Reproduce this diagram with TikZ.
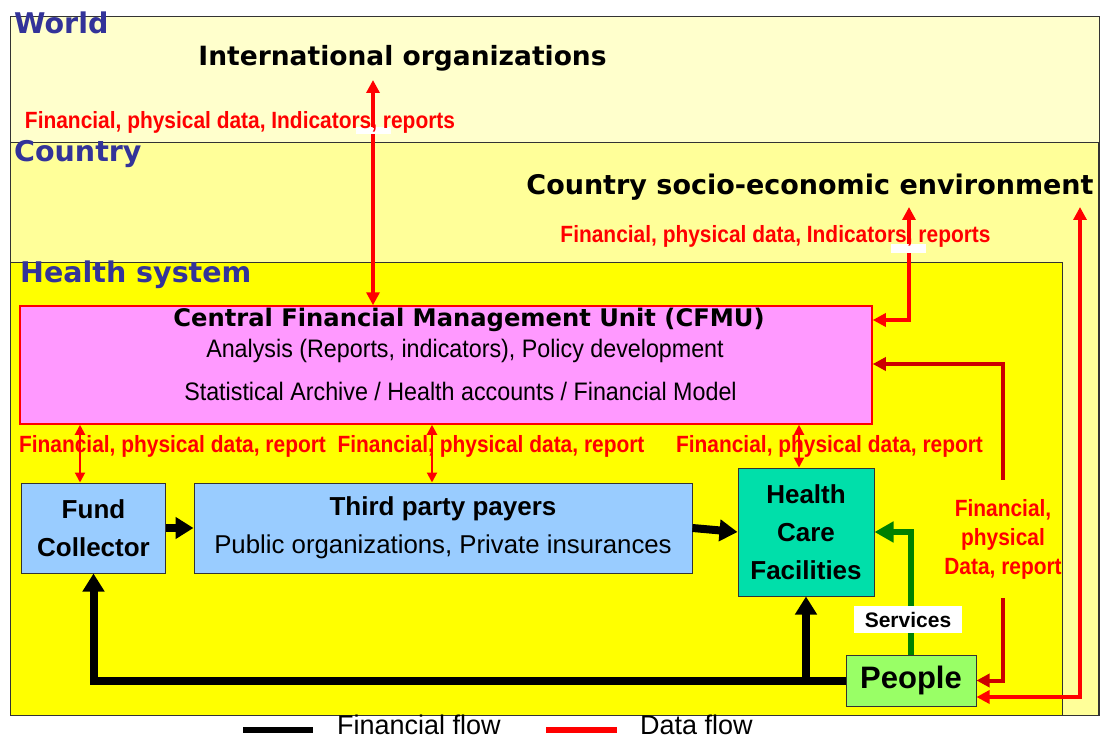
\documentclass[tikz,border=0pt]{standalone}
\usepackage{fontspec}
\setmainfont{Liberation Sans}
\newfontfamily\titlefont{DejaVu Sans}
\newfontfamily\condfont[FakeStretch=0.89]{Liberation Sans}
\newfontfamily\narrowfont[FakeStretch=0.92]{Liberation Sans}
\usetikzlibrary{arrows.meta}
\newcommand\fsz[2]{\fontsize{#1pt}{#2pt}\selectfont}

\definecolor{worldbg}{HTML}{FFFFCC}
\definecolor{countrybg}{HTML}{FFFF99}
\definecolor{healthbg}{HTML}{FFFF00}
\definecolor{cfmubg}{HTML}{FF99FF}
\definecolor{payerbg}{HTML}{99CCFF}
\definecolor{carebg}{HTML}{00DFAA}
\definecolor{peoplebg}{HTML}{99FF66}
\definecolor{levelblue}{HTML}{333399}
\definecolor{datared}{HTML}{FF0000}
\definecolor{datadark}{HTML}{CC0000}
\definecolor{svcgreen}{HTML}{008000}
\definecolor{frame}{HTML}{333333}

\tikzset{
  level/.style={anchor=base west, inner sep=0pt, text=levelblue,
    font=\titlefont\bfseries\fsz{28.5}{34}},
  headline/.style={anchor=base, inner sep=0pt, font=\titlefont\bfseries},
  datalabel/.style={anchor=base, inner sep=0pt, text=datared,
    font=\condfont\bfseries\fsz{23.5}{29}},
  unit/.style={draw=frame, line width=1pt, inner sep=0pt, align=center,
    font=\bfseries\fsz{26}{38}},
  finflow/.style={line width=8pt, -{Triangle[length=18pt,width=21pt]}},
  dataflow/.style={draw=datared, line width=4pt,
    {Triangle[length=13pt,width=13pt]}-{Triangle[length=13pt,width=13pt]}},
  datadark/.style={draw=datadark, line width=4pt},
  darktip/.style={-{Triangle[length=13pt,width=13pt]}},
  datasmall/.style={draw=datared, line width=2pt,
    {Triangle[length=10pt,width=10pt]}-{Triangle[length=10pt,width=10pt]}},
  svcflow/.style={draw=svcgreen, line width=6pt,
    -{Triangle[length=19pt,width=20pt]}},
  legendtext/.style={anchor=base west, inner sep=0pt, font=\fsz{27}{32}},
}

\begin{document}
\begin{tikzpicture}[x=1pt,y=-1pt]
\useasboundingbox[fill=white] (0,0) rectangle (1103,738);

% nested levels: world, country, health system
\draw[fill=worldbg, draw=frame, line width=1pt] (10,17) rectangle (1099,715);
\draw[fill=countrybg, draw=frame, line width=1pt] (10,143) rectangle (1098,715);
\draw[fill=healthbg, draw=frame, line width=1pt] (10,262) rectangle (1062,715);

\node[level] (world) at (14,34) {World};
\node[level] (country) at (14,162) {Country};
\node[level] (health) at (20,282) {Health system};

\node[headline, font=\titlefont\bfseries\fsz{26.5}{32}] (intl) at (402.5,66)
  {International organizations};
\node[headline, font=\titlefont\bfseries\fsz{27}{32}] (env) at (810,195)
  {Country socio-economic environment};

% central unit
\node[draw=datared, fill=cfmubg, line width=1.5pt, inner sep=0pt,
  minimum width=852pt, minimum height=118pt] (cfmu) at (446,365) {};
\node[headline, font=\titlefont\bfseries\fsz{24.2}{29}] (cfmutitle) at (469,326)
  {Central Financial Management Unit (CFMU)};
\node[anchor=base, inner sep=0pt, font=\narrowfont\fsz{25.3}{30}] (cfmuline1) at (465,357)
  {Analysis (Reports, indicators), Policy development};
\node[anchor=base, inner sep=0pt, font=\narrowfont\fsz{25.3}{30}] (cfmuline2) at (460.5,400)
  {Statistical Archive / Health accounts / Financial Model};

% actors
\node[unit, fill=payerbg, minimum width=144pt, minimum height=90pt] (fund) at (93.5,528)
  {Fund\\Collector};
\node[unit, fill=payerbg, minimum width=498pt, minimum height=90pt] (tpp) at (443,528)
  {Third party payers\\{\mdseries\fsz{25.8}{38}Public organizations, Private insurances}};
\node[unit, fill=carebg, minimum width=136pt, minimum height=128pt] (hcf) at (806,532)
  {Health\\Care\\Facilities};
\node[unit, fill=peoplebg, minimum width=130pt, minimum height=51pt,
  font=\bfseries\fsz{31}{36}] (people) at (911,680.5) {People};

% financial flows
\draw[finflow] (fund.east) -- (tpp.west);
\draw[finflow] (tpp.east) -- (hcf.west);
\draw[finflow] (people.west) -| (fund.south);
\draw[finflow] (hcf.south |- people.west) -- (hcf.south);

% services
\draw[svcflow] (people.north) |- (hcf.east);
\node[fill=white, inner sep=0pt, minimum width=108pt, minimum height=27pt,
  font=\bfseries\fsz{21}{25}] (services) at (908,619.5) {Services};

% data flows
\coordinate (intltip) at (373,80);
\coordinate (envtip) at (909,207);
\coordinate (envtipouter) at (1080,207);
\draw[dataflow] (intltip) -- (cfmu.north -| intltip);
\draw[dataflow] (envtip) |- (cfmu.east |- 0,320);
\draw[dataflow] (envtipouter) |- (people.east |- 0,697);

\node[datalabel, align=center, anchor=center, minimum height=118pt,
  font=\condfont\bfseries\fsz{23.5}{29}] (peopledata) at (1003,539)
  {Financial,\\physical\\Data, report};
\draw[datadark, darktip] (peopledata.north) |- (cfmu.east |- 0,364);
\draw[datadark, darktip] (peopledata.south) |- (people.east);

\draw[datasmall] (cfmu.south -| fund.north) ++(-13.5,0) coordinate (fundtop)
  -- (fundtop |- fund.north);
\draw[datasmall] (cfmu.south -| 432,0) -- (tpp.north -| 432,0);
\draw[datasmall] (cfmu.south -| 799,0) -- (hcf.north -| 799,0);

% label backings
\fill[white] (356,127) rectangle (391,134);
\fill[white] (891,244) rectangle (926,253);

\node[datalabel] (intldata) at (240,129) {Financial, physical data, Indicators, reports};
\node[datalabel] (envdata) at (775.5,243) {Financial, physical data, Indicators, reports};
\node[datalabel] (funddata) at (172.5,452) {Financial, physical data, report};
\node[datalabel] (tppdata) at (491,452) {Financial, physical data, report};
\node[datalabel] (hcfdata) at (829.5,452) {Financial, physical data, report};

% legend
\draw[line width=6pt, black] (243,730) -- (313,730);
\node[legendtext] (legfin) at (337,734) {Financial flow};
\draw[line width=6pt, datared] (546,730) -- (617,730);
\node[legendtext] (legdata) at (640,734) {Data flow};
\end{tikzpicture}
\end{document}
